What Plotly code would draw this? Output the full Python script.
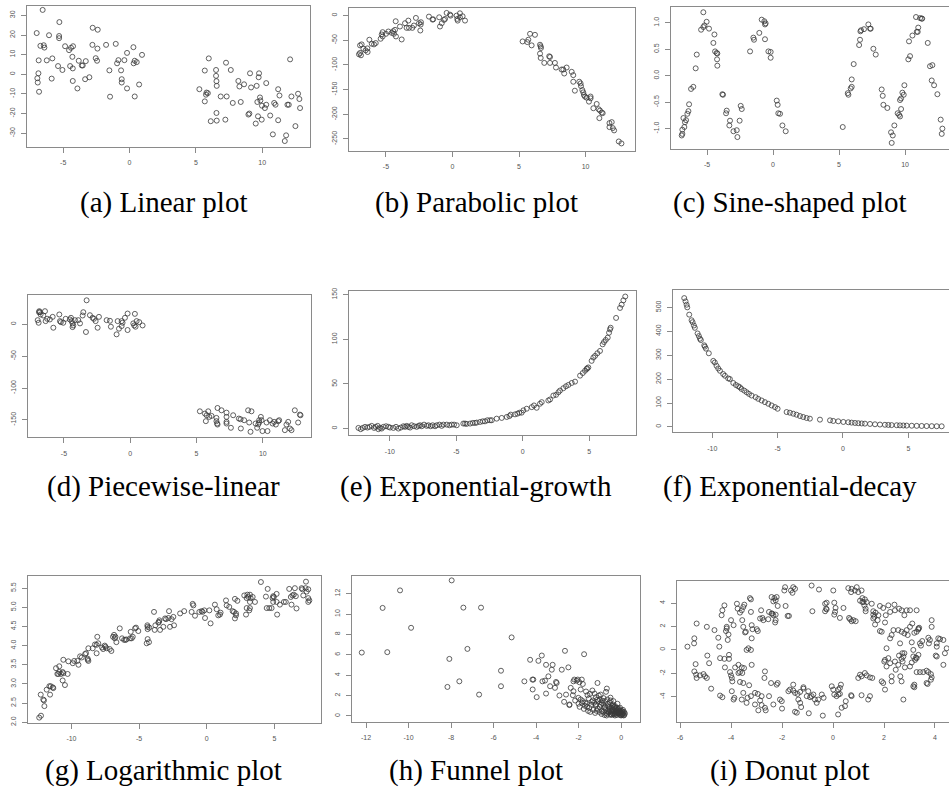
import plotly.graph_objects as go

W, H = 949, 792

# ---------------- data ----------------
a_x = [-7.0,-6.55,-6.72,-6.47,-6.42,-6.07,-5.29,-5.31,-5.31,-6.85,-6.24,-5.82,-6.95,-6.92,-6.87,-6.82,-5.87,-5.39,-5.06,-4.86,
       -4.56,-4.41,-4.26,-4.48,-4.31,-4.28,-4.28,-3.93,-3.83,-3.6,-3.53,-3.35,-3.3,-3.03,-2.78,-2.4,-2.8,-2.42,-2.55,-2.45,
       -1.77,-1.52,-1.47,-1.04,-0.94,-0.84,-0.64,-0.59,-0.59,-0.39,-0.19,-0.19,0.29,0.31,0.39,0.54,0.39,0.72,0.94,
       5.26,5.67,5.67,5.8,5.9,5.76,5.97,6.12,6.52,6.52,6.55,6.57,6.55,6.57,6.87,7.32,7.27,7.22,7.63,7.78,
       8.2,8.28,8.38,8.63,8.96,9.03,9.08,9.16,9.51,9.58,9.63,9.68,9.73,9.76,9.83,9.86,9.96,9.98,10.2,10.3,
       10.3,10.6,10.9,11.0,10.8,11.2,11.2,11.3,11.8,11.7,11.9,12.0,12.1,12.2,12.5,12.7,12.8,12.85]
a_y = [21.0,32.8,14.5,14.8,13.6,19.9,26.6,19.5,18.4,7.1,7.1,8.1,-2.0,-4.2,0.5,-8.9,-2.2,4.2,2.2,14.3,
       12.3,13.5,14.3,4.2,8.9,3.0,-3.4,-7.2,6.9,4.5,4.5,-2.5,6.7,-1.5,23.7,22.7,15.0,13.1,8.2,6.9,
       15.0,2.0,-11.4,15.5,5.6,7.2,2.0,-2.5,-4.2,7.2,10.9,-7.2,13.8,5.6,6.9,6.2,-11.3,-5.2,9.9,
       -7.6,1.9,-13.8,-9.3,-9.6,-10.4,8.1,-23.9,2.2,-0.8,-3.5,-5.9,-19.7,-23.6,-11.3,-11.3,5.9,-23.1,2.2,-14.6,
       -3.4,-6.2,-14.1,-5.1,-20.5,-20.0,0.5,-6.7,-25.1,-5.9,-14.1,-21.4,-1.5,0.5,-11.8,-13.3,-23.1,-16.0,-17.2,-4.5,
       -15.5,-21.0,-14.6,-15.5,-30.6,-7.6,-23.4,-10.8,-31.1,-34.0,-15.5,-15.5,7.6,-11.3,-26.4,-9.9,-12.6,-17.2]

b_x = [-7.03,-6.95,-6.88,-6.95,-6.83,-6.7,-6.53,-6.4,-6.38,-6.25,-6.07,-5.9,-5.77,-5.4,-5.32,-5.25,-5.25,-5.0,-4.82,-4.57,
       -4.45,-4.4,-4.32,-4.27,-4.25,-3.95,-3.82,-3.57,-3.45,-3.32,-3.27,-3.02,-2.9,-2.75,-2.52,-2.39,-2.42,-2.37,-1.77,-1.5,
       -1.45,-1.0,-0.94,-0.81,-0.64,-0.56,-0.44,-0.19,-0.14,0.31,0.36,0.39,0.56,0.56,0.76,0.94,
       5.27,5.62,5.7,5.83,6.2,5.95,6.58,6.63,6.65,6.58,6.63,6.9,7.27,7.33,7.33,7.7,7.78,8.2,8.33,8.4,
       8.58,8.96,9.08,9.08,9.2,9.53,9.63,9.66,9.76,9.83,9.88,9.96,10.08,10.38,10.38,10.26,10.59,10.84,10.99,11.09,
       11.04,11.22,11.29,11.8,11.97,11.8,12.05,12.15,12.5,12.7]
b_y = [-78.4,-75.7,-80.4,-60.3,-58.3,-67,-70.4,-66.4,-73.7,-48.9,-57,-58.3,-55.6,-46.9,-38.2,-33.5,-42.2,-36.9,-32.2,-34.9,
       -31.5,-36.9,-28.8,-11.4,-42.2,-22.1,-48.3,-15.4,-24.8,-10.1,-24.8,-24.8,-20.1,-4.7,-15.4,-18.1,-30.2,-13.4,-2.0,-8.0,
       -7.5,-3.4,-22.1,-15.4,-8.7,-6.7,5.4,2.0,0,0,-6.7,-10.1,4.7,-3.4,-1.3,-10.1,
       -52.3,-53.6,-48.9,-36.9,-38.9,-60.3,-59,-62.3,-65.7,-77,-85.8,-95.8,-82.4,-83.8,-95.8,-95.8,-105.2,-109.2,-109.2,-117.3,
       -105.2,-113.9,-120.6,-134,-152.1,-134,-137.4,-142.8,-150.8,-155.5,-160.9,-164.2,-166.2,-164,-167.6,-174.3,-187.7,-179,-189.7,-192.4,
       -207.8,-196.4,-197.7,-217.8,-215.8,-225.9,-227.9,-232.6,-255,-259]

c_x = [-6.92,-6.87,-6.87,-6.72,-6.67,-6.59,-6.79,-6.49,-6.41,-6.36,-6.21,-6.04,-5.86,-5.78,-5.45,-5.28,-5.2,-5.28,-5.03,-4.85,
       -4.52,-4.44,-4.39,-4.27,-4.22,-4.24,-4.22,-3.84,-3.79,-3.56,-3.51,-3.31,-3.26,-3.0,-2.75,-2.7,-2.53,-2.45,-2.37,-1.74,
       -1.49,-1.44,-1.04,-0.86,-0.66,-0.56,-0.61,-0.61,-0.35,-0.18,-0.18,0.28,0.35,0.4,0.53,0.71,0.96,
       5.28,5.66,5.71,5.88,5.96,5.96,6.11,6.52,6.59,6.62,6.67,6.89,7.22,7.35,7.4,7.6,7.78,8.23,8.31,8.36,
       8.66,8.94,9.07,8.99,9.19,9.44,9.55,9.62,9.7,9.62,9.7,9.8,9.9,9.95,10.25,10.38,10.3,10.56,10.89,11.0,
       10.96,10.83,11.14,11.26,11.3,11.72,11.89,12.07,12.02,12.2,12.45,12.7,12.83,12.78]
c_y = [-1.13,-1.1,-1.02,-0.97,-0.88,-0.84,-0.8,-0.72,-0.67,-0.54,-0.25,-0.21,0.14,0.4,0.87,0.92,0.95,1.2,1.02,0.89,
       0.62,0.78,0.46,0.43,0.42,0.31,0.19,-0.35,-0.36,-0.71,-0.66,-0.94,-0.85,-1.05,-1.03,-1.16,-0.85,-0.57,-0.63,0.46,
       0.72,0.68,0.81,1.06,1.03,0.99,0.97,0.69,0.46,0.45,0.34,-0.47,-0.55,-0.71,-0.72,-0.94,-1.05,
       -0.97,-0.33,-0.36,-0.24,-0.21,-0.07,0.22,0.58,0.68,0.84,0.86,0.88,0.97,0.89,0.89,0.51,0.4,-0.26,-0.38,-0.55,
       -0.61,-1.07,-1.13,-1.27,-0.94,-0.71,-0.74,-0.77,-0.63,-0.46,-0.43,-0.32,-0.36,-0.18,0.31,0.37,0.65,0.76,0.83,0.91,
       0.83,1.11,1.09,1.08,1.08,0.62,0.18,0.2,-0.09,-0.18,-0.35,-0.83,-1.0,-1.1]

d_x = [-6.98,-6.86,-6.88,-6.81,-6.91,-6.76,-6.56,-6.43,-6.38,-6.26,-6.06,-5.85,-5.8,-5.35,-5.3,-5.23,-5.05,-4.87,-4.55,-4.47,
       -4.42,-4.35,-4.3,-4.35,-4.17,-3.92,-3.79,-3.54,-3.59,-3.34,-3.29,-3.04,-2.84,-2.74,-2.61,-2.46,-2.36,-1.78,-1.53,-1.46,
       -1.03,-0.95,-0.85,-0.65,-0.58,-0.65,-0.4,-0.2,-0.2,0.23,0.3,0.4,0.35,0.48,0.68,0.93,
       5.25,5.63,5.7,5.76,5.88,5.96,6.13,6.5,6.5,6.55,6.58,6.58,6.88,7.26,7.26,7.26,7.26,7.59,7.76,8.19,
       8.32,8.34,8.59,8.89,9.14,8.97,9.07,9.45,9.57,9.72,9.72,9.85,9.9,9.65,9.97,10.28,10.35,10.53,10.73,10.85,
       10.98,11.16,11.23,11.66,11.78,11.91,12.04,12.16,12.41,12.66,12.79,12.84]
d_y = [6.7,20.8,19.2,19.2,2.6,15.6,14.0,20.8,5.2,8.8,7.8,11.9,-5.2,15.6,5.2,3.6,2.6,8.8,7.8,10.4,
       5.2,1.6,-1.6,-4.2,6.7,6.7,1.6,19.2,14.0,-11.9,37.9,14.5,10.4,8.8,5.2,-5.2,11.9,6.7,5.7,-3.6,
       -15.6,5.2,-6.7,5.2,2.6,-2.6,10.4,17.1,-8.8,1.6,-1.6,-3.6,16.6,5.2,3.6,-1.6,
       -136.5,-140.1,-152,-142.7,-136.5,-145.3,-143.7,-146.9,-152,-155.7,-157.3,-131.3,-134.9,-138.6,-145.3,-153.1,-155.7,-162.4,-142.7,-147.9,
       -149,-163.5,-150.5,-134.9,-136.5,-154.1,-168.7,-155.7,-162.4,-150.5,-154.1,-145.3,-150.5,-157.2,-167.6,-154.1,-167.6,-150.5,-155.7,-153.1,
       -157.3,-152,-150.5,-166.1,-157.3,-153.1,-163.5,-166.1,-134.9,-154.1,-141.7,-142.7]

e_x = [-12.37,-12.2,-12.05,-11.87,-11.69,-11.54,-11.37,-11.19,-11.07,-10.92,-10.87,-10.74,-10.62,-10.49,-10.29,-10.11,-9.99,-9.74,-9.54,-9.36,
       -9.18,-8.98,-8.86,-8.73,-8.61,-8.48,-8.36,-8.18,-7.98,-7.85,-7.73,-7.6,-7.43,-7.23,-7.1,-6.93,-6.78,-6.6,-6.47,-6.27,
       -6.1,-5.97,-5.72,-5.52,-5.35,-5.17,-4.97,
       -4.47,-4.34,-4.22,-3.96,-3.76,-3.59,-3.46,-3.21,-3.01,-2.84,-2.66,-2.46,-2.33,-1.96,-1.58,-1.2,-1.0,-0.9,-0.58,-0.4,
       -0.25,-0.08,0.05,0.3,0.68,0.85,1.05,1.3,1.43,1.93,2.06,2.31,2.51,2.69,2.81,3.06,3.26,3.44,3.69,3.94,
       4.32,4.52,4.69,4.82,4.85,4.94,5.19,5.32,5.45,5.62,5.82,6.02,6.12,6.25,6.4,6.5,6.57,6.62,7.03,7.33,
       7.45,7.58,7.72]
e_y = [0.7,-0.7,0.7,1.9,1.1,1.9,3.0,0.7,1.9,3.0,-0.7,0.7,0.0,1.9,2.6,1.9,1.1,0.7,1.9,0.0,
       1.1,2.6,1.9,3.0,1.9,1.1,3.7,2.6,1.9,3.0,3.7,2.6,4.4,3.0,3.7,2.6,3.7,2.6,3.7,4.4,
       3.0,4.4,4.4,3.7,4.4,4.4,3.7,
       5.6,5.6,5.2,5.6,6.3,6.3,6.7,7.4,8.1,8.1,9.3,9.3,9.3,11.1,11.9,13.0,14.0,15.6,15.9,16.7,
       17.8,17.8,20.4,22.2,24.0,25.9,23.3,27.8,29.6,31.5,32.6,37.0,37.8,40.7,42.6,45.2,47.4,48.9,51.1,52.6,
       59.3,62.2,64.8,66.7,67.5,68.5,75.9,79.6,81.5,84.4,87.0,94.4,97.0,99.3,101.9,107.4,111.1,113.0,124.0,135.2,
       138.9,143.7,148.0]

f_x = [-12.14,-12.04,-11.96,-11.91,-11.76,-11.58,-11.5,-11.4,-11.33,-11.12,-11.02,-10.94,-10.87,-10.61,-10.56,-10.48,-10.26,-9.92,-9.8,-9.67,
       -9.54,-9.41,-9.16,-9.03,-8.78,-8.65,-8.39,-8.19,-8.01,-7.88,-7.76,-7.55,-7.37,-7.19,-6.99,-6.68,-6.48,-6.22,-5.97,-5.71,
       -5.46,-5.2,-5.0,-4.31,-4.06,-3.8,-3.55,-3.29,-3.04,-2.78,-2.53,-1.76,-0.99,-0.74,-0.36,0.03,0.41,0.66,0.92,1.17,
       1.43,1.68,2.07,2.45,2.83,3.21,3.47,3.72,4.11,4.36,4.62,4.87,5.26,5.64,6.02,6.4,6.79,7.17,7.55]
f_y = [538.7,524.9,511,500,469.6,446,437.8,424,414.4,390.9,379.8,368.8,363.3,341.2,335.6,327.3,308,276.2,269.3,255.5,
       244.5,234.8,221,214,203,200.3,183.7,175.4,169.9,165.7,158.8,151.9,145,138.1,131.2,124.3,117.4,110.5,103.6,96.7,
       89.8,82.9,76,62.2,59.4,55.2,51.1,45.6,41.4,37.3,34.5,30.4,27.6,24.9,23.5,20.7,19.5,18.0,16.6,15.5,
       14.5,13.8,12.4,11.0,9.9,9.0,8.3,7.6,7.0,6.5,6.0,5.6,5.0,4.5,4.0,3.6,3.2,2.9,2.6]

g_x = [-12.38,-12.25,-12.27,-12.08,-12.03,-12.0,-11.83,-11.63,-11.53,-11.38,-11.58,-11.34,-11.14,-11.04,-10.97,-10.89,-10.77,-10.9,-10.65,-10.6,
       -10.6,-10.65,-10.48,-10.28,-10.23,-9.9,-9.8,-9.56,-9.48,-9.36,-9.24,-8.99,-8.92,-8.8,-8.75,-8.8,-8.75,-8.43,-8.26,-8.14,
       -8.09,-8.02,-8.14,-7.74,-7.66,-7.54,-7.49,-7.4,-7.17,-7.05,-6.93,-6.85,-6.8,-6.75,-6.68,-6.43,-6.26,-6.11,-6.01,-5.94,
       -5.67,-5.62,-5.55,-5.47,-5.3,-5.23,-5.06,-4.44,-4.37,-4.27,-4.39,-4.37,-4.37,-4.25,-3.9,-3.85,-3.8,-3.58,-3.53,-3.5,
       -3.45,-3.21,-3.08,-3.01,-2.84,-2.79,-2.72,-2.6,-2.47,-2.42,-1.97,-1.67,-1.12,-1.04,-0.99,-0.87,-0.55,-0.38,-0.31,-0.13,
       -0.18,0.19,0.28,0.6,0.73,0.85,0.97,1.02,1.42,1.47,1.66,1.91,2.01,2.16,2.08,2.16,2.08,2.26,2.77,2.95,
       3.0,3.07,3.19,3.24,3.19,3.39,3.56,2.95,2.9,3.14,3.19,4.0,4.37,4.5,4.43,4.62,4.79,4.91,4.86,4.96,
       4.91,5.16,5.16,5.2,5.4,5.7,5.84,6.09,6.21,6.26,6.33,6.43,6.51,6.58,6.63,7.01,7.06,7.13,7.3,7.38,
       7.5,7.33,7.5,7.58,7.5]
g_y = [2.12,2.17,2.72,2.59,2.57,2.42,2.85,2.94,2.94,2.91,2.72,2.89,3.41,3.26,3.26,3.31,3.26,3.46,3.31,3.28,
       3.63,3.09,2.97,3.26,3.59,3.54,3.6,3.6,3.5,3.72,3.69,3.78,3.8,3.66,3.6,3.63,3.93,3.93,4.03,4.02,
       4.23,4.06,3.8,3.95,3.91,4.0,3.97,3.93,3.91,3.86,4.23,4.28,4.19,4.23,4.09,4.45,4.19,4.15,4.15,4.16,
       4.19,4.36,4.19,4.23,4.45,4.47,4.38,4.06,4.17,4.09,4.53,4.49,4.43,4.47,4.88,4.41,4.53,4.6,4.62,4.66,
       4.41,4.49,4.71,4.69,4.72,4.9,4.49,4.69,4.75,4.53,4.84,4.9,4.88,5.09,5.05,4.78,4.88,4.9,4.88,4.72,
       4.92,4.92,4.58,5.07,4.95,4.79,4.81,4.86,5.18,5.05,5.01,4.9,4.88,4.84,4.71,4.79,5.22,5.17,5.31,5.24,
       5.33,5.27,5.33,5.24,5.14,5.27,5.14,4.98,4.81,4.92,4.98,5.66,5.28,5.48,4.98,4.98,4.98,5.14,5.24,5.27,
       5.29,5.35,5.14,4.81,5.07,5.14,5.14,5.48,5.27,5.07,5.31,5.33,5.5,5.29,4.97,5.5,5.47,5.31,5.5,5.41,
       5.47,5.67,5.24,5.18,5.14]

h_x = [-12.2,-11.22,-11.0,-10.4,-9.88,-8.08,-8.17,-7.97,-7.61,-7.42,-7.23,-6.68,-6.59,-5.65,-5.65,-5.15,-4.55,-4.28,-4.17,-4.16,
       -4.13,-3.97,-3.89,-3.73,-3.7,-3.58,-3.53,-3.53,-3.42,-3.34,-3.26,-3.22,-3.11,-3.06,-3.03,-2.9,-2.79,-2.68,-2.64,-2.59,
       -2.48,-2.43,-2.43,-2.37,-2.24,-2.24,-2.2,-2.09,-2.04,-1.96,-1.85,-1.8,-1.74,-2.27,-2.16,-2.01,-1.9,-1.8,-1.69,-1.58,
       -1.52,-1.46,-1.33,-1.27,-1.18,-1.11,-1.18,-1.07,-0.99,-0.96,-0.91,-0.83,-0.75,-0.71,-0.67,-0.64,-0.6,-0.52,-0.49,-0.44,
       -0.39,-0.36,-0.33,-0.28,-0.24,-0.2,-0.17,-0.13,-0.08,-0.05,-0.02,0.03,0.08,
       -1.5,-1.3,-1.2,-1.0,-0.9,-0.8,-0.7,-0.6,-0.5,-0.45,-0.4,-0.35,-0.3,-0.25,-0.2,-0.15,-0.1,-0.05,0.0,0.05,
       0.1,0.15,-1.7,-1.6,-1.4,-1.1,-0.95,-0.85,-0.75,-0.65,-0.55,-0.48,-0.42,-0.32,-0.27,-0.22,-0.12,-0.07,0.02,0.12,
       -2.0,-1.9,-1.65,-1.35,-1.25,-1.05,
       -1.95,-1.85,-1.75,-1.62,-1.55,-1.45,-1.38,-1.22,-1.15,-1.02,-0.92,-0.88,-0.78,-0.72,-0.62,-0.58,-0.53,-0.46,-0.38,-0.34,
       -0.29,-0.23,-0.18,-0.14,-0.09,-0.03,0.04,0.09,0.14,0.18,-0.68,-0.57,-0.43,-0.31,-0.19,-0.06,0.06,-1.12,-0.82,-0.5]
h_y = [6.22,10.6,6.26,12.32,8.65,5.6,2.85,13.3,3.4,10.63,6.58,2.1,10.63,4.44,2.92,7.71,3.4,5.51,3.57,2.6,
       3.57,1.85,5.41,5.93,3.4,3.47,5.02,2.2,3.89,2.92,4.54,5.02,2.76,3.34,3.24,2.01,4.54,1.39,6.39,2.1,
       4.77,1.13,1.07,2.76,2.43,3.4,3.57,3.47,3.57,3.31,3.57,3.14,6.06,2.04,1.52,1.78,1.62,1.46,1.3,2.04,
       1.72,2.17,1.52,1.3,1.85,3.24,1.13,1.46,1.62,2.1,1.3,1.13,1.46,2.37,2.69,1.62,0.97,1.3,1.52,0.81,
       1.13,1.46,0.65,0.97,0.49,0.81,1.2,0.65,0.42,0.81,0.23,0.49,0.16,
       0.8,0.6,1.0,0.9,0.5,0.8,0.3,0.6,0.2,0.4,0.6,0.15,0.3,0.7,0.1,0.4,0.2,0.1,0.05,0.2,
       0.3,0.1,1.0,0.9,1.1,0.7,1.1,0.4,0.9,0.2,0.9,0.1,1.0,0.45,0.2,0.55,0.3,0.5,0.35,0.05,
       1.2,2.6,2.4,2.5,2.2,2.0,
       0.9,1.3,0.7,1.2,0.5,0.4,1.4,0.3,0.5,0.4,0.2,1.5,0.1,0.6,1.2,0.35,0.7,0.5,0.25,0.85,
       0.05,0.35,0.6,0.25,0.7,0.35,0.1,0.6,0.4,0.25,0.05,0.45,0.15,0.9,0.3,0.55,0.45,1.6,1.75,1.8]

i_x = [-5.71,-5.45,-5.44,-5.39,-5.44,-5.37,-5.35,-5.22,-5.08,-5.02,-4.95,-5.35,-4.95,-4.93,-4.86,-4.78,-4.65,-4.5,-4.46,-4.43,
       -4.37,-4.34,-4.26,-4.24,-4.26,-4.43,-4.34,-4.2,-4.17,-4.17,-4.13,-4.1,-4.08,-4.08,-4.04,-4.0,-3.97,-3.95,-3.97,-3.9,
       -3.87,-4.0,-3.9,-3.77,-3.74,-3.65,-3.58,-3.52,-3.48,-3.56,-3.52,-3.42,-3.45,-3.39,-3.84,-3.71,-3.65,-3.58,-3.49,-3.71,
       -3.56,-3.65,-3.52,-3.52,-3.58,-3.39,-3.35,-3.29,-3.19,-3.22,-3.06,-2.95,-3.32,-3.22,-3.26,-3.22,-3.22,-3.19,-3.19,-3.16,
       -2.99,-2.95,-2.86,-2.82,-2.77,-2.73,-3.06,-2.93,-2.86,-2.8,-2.8,-2.69,-2.67,-2.51,-2.43,-2.34,-2.67,-2.64,-2.54,-2.51,
       -2.41,-2.38,-2.34,-2.25,-2.25,-2.27,-2.41,-2.34,-2.3,-2.25,-2.21,-2.17,-2.21,-2.17,-2.08,-2.01,-1.91,-1.88,-1.86,-1.78,
       -1.73,-1.65,-1.59,-1.56,-1.49,-1.75,-1.69,-1.56,-1.56,-1.49,-1.39,-1.29,-1.36,-1.29,-1.25,-1.49,-1.42,-1.16,-1.16,-1.03,
       -0.97,-0.9,-0.84,-0.77,-0.71,-0.64,-0.58,-0.44,-0.37,-0.84,-0.81,-0.55,-0.31,-0.27,-0.25,-0.25,-0.31,0.05,0.1,0.08,
       0.01,0.05,-0.05,0.01,0.05,0.14,0.21,0.27,0.27,0.31,0.34,0.47,0.5,0.21,0.27,0.41,0.63,0.67,0.73,0.8,
       0.89,0.73,0.6,0.71,0.73,0.86,0.93,0.99,1.12,1.15,1.23,1.28,1.28,0.99,1.06,1.12,1.25,1.32,1.45,1.54,
       1.06,1.15,1.19,1.25,1.32,1.52,1.58,1.58,1.62,1.67,1.65,1.58,1.75,1.78,0.71,1.12,1.45,1.38,1.84,1.97,
       2.04,2.07,1.91,1.84,2.04,2.01,2.17,2.1,2.24,1.91,1.97,2.04,2.3,2.3,2.43,2.46,2.56,2.1,2.24,2.3,
       2.37,2.17,2.24,2.41,2.43,2.59,2.69,2.8,2.56,2.63,2.69,2.8,2.69,2.73,2.76,2.8,2.82,2.72,2.59,2.64,
       2.69,2.76,3.02,3.15,3.09,3.15,3.19,3.19,2.89,2.93,3.02,3.09,3.11,3.19,3.28,3.35,3.35,3.38,3.41,3.45,
       3.5,2.89,3.02,3.28,3.15,3.22,3.25,3.28,3.35,3.28,3.41,3.54,3.67,3.74,3.74,3.76,3.8,3.84,3.87,3.84,
       3.71,3.67,3.87,3.87,4.07,4.07,4.13,4.2,4.33,4.03,4.07,4.33,4.39,4.46,-0.95,-0.4,0.2,-2.0]
i_y = [0.28,0.56,0.99,-1.21,-1.83,-2.11,-2.39,-2.17,-2.06,-2.25,-2.39,2.25,1.97,-0.48,-1.13,-3.3,1.69,1.04,0.28,-0.7,
       2.96,3.38,3.8,-1.49,-0.76,-3.89,-4.03,1.61,1.97,1.83,0.85,1.32,-0.42,-0.76,-1.89,-2.17,-2.39,-2.68,-3.52,-4.23,
       -4.08,2.54,2.11,3.94,3.52,3.18,3.38,3.66,3.86,2.54,1.97,1.55,1.49,0.0,-1.49,-1.97,-1.89,-1.49,-1.55,-1.27,
       -1.97,-2.73,-2.82,-3.66,-4.23,-4.51,-4.08,-3.01,-1.27,-3.94,-3.66,-3.75,0.14,0.0,4.42,4.31,3.24,2.11,0.99,1.77,
       1.77,1.61,2.68,3.38,2.73,2.54,-4.65,-5.15,-4.31,-4.7,-3.94,-2.39,-1.83,-3.94,-2.82,-4.65,-4.93,-5.15,2.62,3.24,
       3.1,3.1,2.96,2.54,3.01,2.34,4.51,4.14,4.42,4.23,4.51,3.75,-2.96,-2.82,-4.23,-4.37,5.07,5.35,3.75,2.9,
       2.9,5.07,4.87,5.35,5.21,-3.52,-3.38,-3.46,-2.96,-3.66,-3.75,-3.58,-4.23,-4.51,-4.87,-5.27,-5.35,-3.18,-3.3,-3.94,
       -3.52,-4.03,-3.94,-3.8,-4.23,-4.51,-4.23,-3.8,-4.08,5.49,3.3,5.15,3.3,3.52,3.46,4.03,3.94,4.03,3.58,3.24,
       5.07,3.01,-3.1,-3.38,-3.8,-3.94,-3.38,-3.75,-3.24,-2.96,-4.93,-4.79,-4.37,-3.8,2.73,3.58,2.73,2.62,2.45,2.54,
       2.45,-3.94,5.27,4.93,5.21,5.07,5.35,4.93,5.07,4.08,3.8,3.52,3.3,-2.39,-2.11,-2.25,-1.97,-2.17,-2.34,-2.39,
       4.2,4.42,4.08,4.31,4.08,3.94,3.3,3.01,2.82,3.18,2.17,2.68,2.54,2.96,-3.86,-3.86,-3.94,-4.23,3.75,3.58,
       2.34,2.96,1.55,1.61,-0.85,-0.99,-0.7,-1.41,-1.13,-2.68,-2.82,-3.38,-2.68,-2.25,-0.99,-1.69,-1.27,0.14,0.99,1.27,
       1.69,3.8,3.24,3.86,3.38,3.52,3.38,2.96,1.69,0.56,1.55,1.41,-0.76,-0.99,-0.56,-0.28,-1.49,-0.28,-0.48,-2.25,
       -2.68,-4.23,-1.41,-0.56,-1.07,-3.1,-3.18,-2.96,1.69,1.27,1.97,0.65,2.25,1.46,1.55,1.75,1.83,1.89,0.56,0.37,
       0.76,3.38,3.38,3.38,0.0,-0.85,-0.65,-0.7,-0.42,-1.89,-1.89,-1.89,-1.77,-1.89,1.04,0.56,0.85,-2.06,-2.34,-2.54,
       -2.9,-2.82,2.54,1.97,0.28,0.56,0.99,0.93,0.85,-0.48,-0.56,-1.27,-0.28,0.14,-5.4,-5.6,-5.5,-5.0]

# tick labels
tk_a_x = ["-5", "0", "5", "10"];  tk_a_y = ["-30", "-20", "-10", "0", "10", "20", "30"]
tk_b_x = ["-5", "0", "5", "10"];  tk_b_y = ["-250", "-200", "-150", "-100", "-50", "0"]
tk_c_x = ["-5", "0", "5", "10"];  tk_c_y = ["-1.0", "-0.5", "0.0", "0.5", "1.0"]
tk_d_x = ["-5", "0", "5", "10"];  tk_d_y = ["-150", "-100", "-50", "0"]
tk_e_x = ["-10", "-5", "0", "5"]; tk_e_y = ["0", "50", "100", "150"]
tk_f_x = ["-10", "-5", "0", "5"]; tk_f_y = ["0", "100", "200", "300", "400", "500"]
tk_g_x = ["-10", "-5", "0", "5"]; tk_g_y = ["2.0", "2.5", "3.0", "3.5", "4.0", "4.5", "5.0", "5.5"]
tk_h_x = ["-12", "-10", "-8", "-6", "-4", "-2", "0"]; tk_h_y = ["0", "2", "4", "6", "8", "10", "12"]
tk_i_x = ["-6", "-4", "-2", "0", "2", "4"]; tk_i_y = ["-4", "-2", "0", "2", "4"]

captions = ["(a) Linear plot", "(b) Parabolic plot", "(c) Sine-shaped plot",
            "(d) Piecewise-linear", "(e) Exponential-growth", "(f) Exponential-decay",
            "(g) Logarithmic plot", "(h) Funnel plot", "(i) Donut plot"]

# ---------------- layout (pixel boxes) ----------------
panels = [
    (a_x, a_y, tk_a_x, tk_a_y, (27, 310, 2, 144), [-7.73, 13.6], [-36.9, 34.8], False),
    (b_x, b_y, tk_b_x, tk_b_y, (349, 635, 4, 148), [-7.78, 13.72], [-273.7, 15.5], False),
    (c_x, c_y, tk_c_x, tk_c_y, (671, 949, 3, 146), [-7.73, 13.33], [-1.38, 1.30], True),
    (d_x, d_y, tk_d_x, tk_d_y, (28, 311, 294, 437), [-7.71, 13.63], [-177.1, 45.6], False),
    (e_x, e_y, tk_e_x, tk_e_y, (349, 636, 290, 435), [-13.08, 8.53], [-7.4, 153.7], False),
    (f_x, f_y, tk_f_x, tk_f_y, (673, 949, 289, 432), [-13.0, 8.11], [-22.0, 570.7], True),
    (g_x, g_y, tk_g_x, tk_g_y, (28, 321, 577, 725), [-13.21, 8.44], [1.99, 5.82], False),
    (h_x, h_y, tk_h_x, tk_h_y, (352, 640, 577, 724), [-12.66, 0.89], [-0.55, 13.74], False),
    (i_x, i_y, tk_i_x, tk_i_y, (677, 949, 582, 724), [-6.12, 4.55], [-6.11, 5.89], True),
]
cap_pos = [(163, 200), (476, 200), (790, 200),
           (163, 487), (476, 487), (790, 487),
           (163, 773), (476, 773), (790, 773)]

AX = "#8a8a8a"
TICKFONT = dict(family="Liberation Sans, Arial, sans-serif", size=7, color="#555555")

fig = go.Figure()
layout = dict(width=W, height=H, margin=dict(l=0, r=0, t=0, b=0),
              paper_bgcolor="white", plot_bgcolor="white", showlegend=False)

for k, (xs, ys, txl, tyl, box, xr, yr, cut) in enumerate(panels):
    n = "" if k == 0 else str(k + 1)
    l, r, t, b = box
    fig.add_trace(go.Scatter(x=xs, y=ys, mode="markers", xaxis="x" + n, yaxis="y" + n,
                             marker=dict(symbol="circle-open", size=5, color="#3a3a3a",
                                         line=dict(width=0.8, color="#3a3a3a")),
                             hoverinfo="skip"))
    layout["xaxis" + n] = dict(domain=[l / W, r / W], range=xr, anchor="y" + n,
                               showgrid=False, zeroline=False, showline=True, mirror=True,
                               linecolor=AX, linewidth=1, ticks="outside", ticklen=5,
                               tickcolor=AX, tickwidth=1,
                               tickvals=[float(v) for v in txl], ticktext=txl,
                               tickfont=TICKFONT, ticklabelstandoff=4, fixedrange=True)
    layout["yaxis" + n] = dict(domain=[1 - b / H, 1 - t / H], range=yr, anchor="x" + n,
                               showgrid=False, zeroline=False, showline=True, mirror=not cut,
                               linecolor=AX, linewidth=1, ticks="outside", ticklen=5,
                               tickcolor=AX, tickwidth=1, tickangle=-90,
                               tickvals=[float(v) for v in tyl], ticktext=tyl,
                               tickfont=TICKFONT, ticklabelstandoff=3, fixedrange=True)

annotations = []
for (cx, cy), txt in zip(cap_pos, captions):
    annotations.append(dict(x=cx / W, y=1 - cy / H, xref="paper", yref="paper",
                            text=txt, showarrow=False, xanchor="center", yanchor="middle",
                            font=dict(family="Liberation Serif, Times New Roman, serif",
                                      size=29, color="black")))
layout["annotations"] = annotations

fig.update_layout(**layout)
fig.write_html("out.html", config={"displayModeBar": False})
